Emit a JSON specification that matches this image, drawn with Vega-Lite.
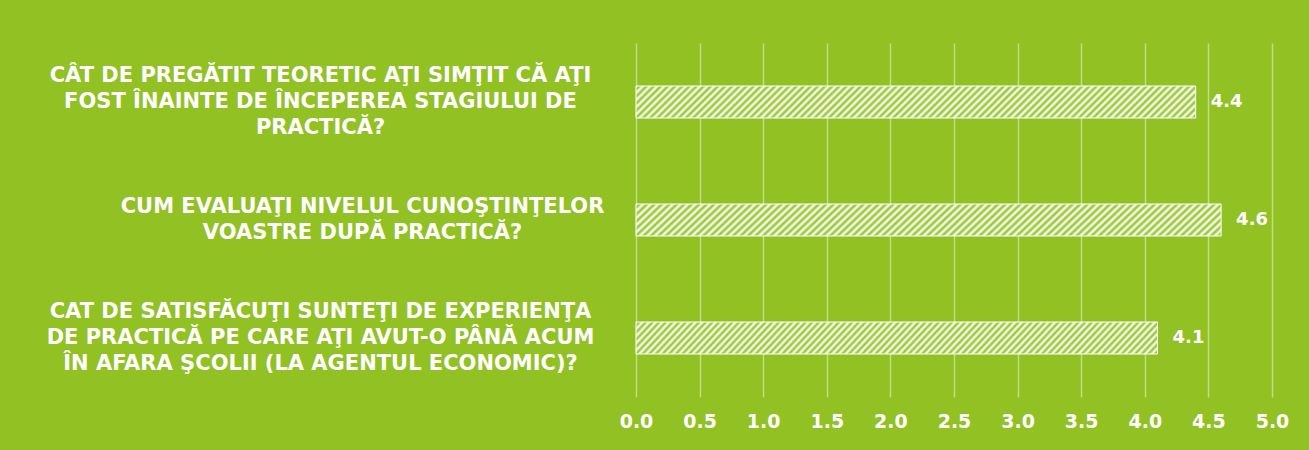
{
  "$schema": "https://vega.github.io/schema/vega-lite/v6.json",
  "autosize": "none",
  "width": 636,
  "height": 354,
  "padding": {"left": 636, "top": 43, "right": 37, "bottom": 53},
  "background": "#92c123",
  "config": {
    "view": {"stroke": null},
    "axis": {"domain": false, "ticks": false, "title": null}
  },
  "data": {
    "values": [
      {"q": "CÂT DE PREGĂTIT TEORETIC AŢI SIMŢIT CĂ AŢI|FOST ÎNAINTE DE ÎNCEPEREA STAGIULUI DE|PRACTICĂ?", "v": 4.4},
      {"q": "CUM EVALUAŢI NIVELUL CUNOŞTINŢELOR|VOASTRE DUPĂ PRACTICĂ?", "v": 4.6},
      {"q": "CAT DE SATISFĂCUŢI SUNTEŢI DE EXPERIENŢA|DE PRACTICĂ PE CARE AŢI AVUT-O PÂNĂ ACUM|ÎN AFARA ŞCOLII (LA AGENTUL ECONOMIC)?", "v": 4.1}
    ]
  },
  "encoding": {
    "y": {
      "field": "q", "type": "nominal", "sort": null,
      "scale": {"paddingInner": 0.729, "paddingOuter": 0.3645},
      "axis": {
        "labelExpr": "split(datum.value, '|')",
        "labelAlign": "center",
        "labelBaseline": "middle",
        "labelPadding": {"condition": {"test": "indexof(datum.value, 'CUM') == 0", "value": 274}, "value": 316},
        "labelOffset": {"condition": {"test": "indexof(datum.value, 'CUM') == 0", "value": -13}, "value": -26},
        "labelLimit": 0,
        "labelLineHeight": 26,
        "labelFont": "DejaVu Sans",
        "labelFontWeight": "bold",
        "labelFontSize": 21,
        "labelColor": "white"
      }
    },
    "x": {
      "field": "v", "type": "quantitative",
      "scale": {"domain": [0, 5], "nice": false},
      "axis": {
        "values": [0, 0.5, 1, 1.5, 2, 2.5, 3, 3.5, 4, 4.5, 5],
        "format": ".1f",
        "grid": true,
        "gridColor": "white",
        "gridOpacity": 0.45,
        "gridWidth": 1.5,
        "labelFlush": false,
        "labelPadding": 15,
        "labelFont": "DejaVu Sans",
        "labelFontWeight": "bold",
        "labelFontSize": 19,
        "labelColor": "white"
      }
    }
  },
  "layer": [
    {
      "mark": {
        "type": "bar",
        "stroke": "white",
        "strokeWidth": 1,
        "fill": {
          "gradient": "linear",
          "x1": 0, "y1": 0, "x2": 1.06, "y2": 0.061,
          "stops": [
            {"offset": 0, "color": "#fff"}, {"offset": 0.006, "color": "#92c123"}, {"offset": 0.012, "color": "#fff"}, {"offset": 0.018, "color": "#92c123"}, {"offset": 0.024, "color": "#fff"}, {"offset": 0.03, "color": "#92c123"}, {"offset": 0.036, "color": "#fff"}, {"offset": 0.042, "color": "#92c123"}, {"offset": 0.048, "color": "#fff"}, {"offset": 0.054, "color": "#92c123"},
            {"offset": 0.06, "color": "#fff"}, {"offset": 0.066, "color": "#92c123"}, {"offset": 0.072, "color": "#fff"}, {"offset": 0.078, "color": "#92c123"}, {"offset": 0.084, "color": "#fff"}, {"offset": 0.09, "color": "#92c123"}, {"offset": 0.096, "color": "#fff"}, {"offset": 0.102, "color": "#92c123"}, {"offset": 0.108, "color": "#fff"}, {"offset": 0.114, "color": "#92c123"},
            {"offset": 0.12, "color": "#fff"}, {"offset": 0.126, "color": "#92c123"}, {"offset": 0.132, "color": "#fff"}, {"offset": 0.138, "color": "#92c123"}, {"offset": 0.144, "color": "#fff"}, {"offset": 0.15, "color": "#92c123"}, {"offset": 0.156, "color": "#fff"}, {"offset": 0.162, "color": "#92c123"}, {"offset": 0.168, "color": "#fff"}, {"offset": 0.174, "color": "#92c123"},
            {"offset": 0.18, "color": "#fff"}, {"offset": 0.186, "color": "#92c123"}, {"offset": 0.192, "color": "#fff"}, {"offset": 0.198, "color": "#92c123"}, {"offset": 0.204, "color": "#fff"}, {"offset": 0.21, "color": "#92c123"}, {"offset": 0.216, "color": "#fff"}, {"offset": 0.222, "color": "#92c123"}, {"offset": 0.228, "color": "#fff"}, {"offset": 0.234, "color": "#92c123"},
            {"offset": 0.24, "color": "#fff"}, {"offset": 0.246, "color": "#92c123"}, {"offset": 0.252, "color": "#fff"}, {"offset": 0.258, "color": "#92c123"}, {"offset": 0.264, "color": "#fff"}, {"offset": 0.27, "color": "#92c123"}, {"offset": 0.276, "color": "#fff"}, {"offset": 0.282, "color": "#92c123"}, {"offset": 0.288, "color": "#fff"}, {"offset": 0.294, "color": "#92c123"},
            {"offset": 0.3, "color": "#fff"}, {"offset": 0.306, "color": "#92c123"}, {"offset": 0.312, "color": "#fff"}, {"offset": 0.318, "color": "#92c123"}, {"offset": 0.324, "color": "#fff"}, {"offset": 0.33, "color": "#92c123"}, {"offset": 0.336, "color": "#fff"}, {"offset": 0.342, "color": "#92c123"}, {"offset": 0.348, "color": "#fff"}, {"offset": 0.354, "color": "#92c123"},
            {"offset": 0.36, "color": "#fff"}, {"offset": 0.366, "color": "#92c123"}, {"offset": 0.372, "color": "#fff"}, {"offset": 0.378, "color": "#92c123"}, {"offset": 0.384, "color": "#fff"}, {"offset": 0.39, "color": "#92c123"}, {"offset": 0.396, "color": "#fff"}, {"offset": 0.402, "color": "#92c123"}, {"offset": 0.408, "color": "#fff"}, {"offset": 0.414, "color": "#92c123"},
            {"offset": 0.42, "color": "#fff"}, {"offset": 0.426, "color": "#92c123"}, {"offset": 0.432, "color": "#fff"}, {"offset": 0.438, "color": "#92c123"}, {"offset": 0.444, "color": "#fff"}, {"offset": 0.45, "color": "#92c123"}, {"offset": 0.456, "color": "#fff"}, {"offset": 0.462, "color": "#92c123"}, {"offset": 0.468, "color": "#fff"}, {"offset": 0.474, "color": "#92c123"},
            {"offset": 0.48, "color": "#fff"}, {"offset": 0.486, "color": "#92c123"}, {"offset": 0.492, "color": "#fff"}, {"offset": 0.498, "color": "#92c123"}, {"offset": 0.504, "color": "#fff"}, {"offset": 0.51, "color": "#92c123"}, {"offset": 0.516, "color": "#fff"}, {"offset": 0.522, "color": "#92c123"}, {"offset": 0.528, "color": "#fff"}, {"offset": 0.534, "color": "#92c123"},
            {"offset": 0.54, "color": "#fff"}, {"offset": 0.546, "color": "#92c123"}, {"offset": 0.552, "color": "#fff"}, {"offset": 0.558, "color": "#92c123"}, {"offset": 0.564, "color": "#fff"}, {"offset": 0.57, "color": "#92c123"}, {"offset": 0.576, "color": "#fff"}, {"offset": 0.582, "color": "#92c123"}, {"offset": 0.588, "color": "#fff"}, {"offset": 0.594, "color": "#92c123"},
            {"offset": 0.6, "color": "#fff"}, {"offset": 0.606, "color": "#92c123"}, {"offset": 0.612, "color": "#fff"}, {"offset": 0.618, "color": "#92c123"}, {"offset": 0.624, "color": "#fff"}, {"offset": 0.63, "color": "#92c123"}, {"offset": 0.636, "color": "#fff"}, {"offset": 0.642, "color": "#92c123"}, {"offset": 0.648, "color": "#fff"}, {"offset": 0.654, "color": "#92c123"},
            {"offset": 0.66, "color": "#fff"}, {"offset": 0.666, "color": "#92c123"}, {"offset": 0.672, "color": "#fff"}, {"offset": 0.678, "color": "#92c123"}, {"offset": 0.684, "color": "#fff"}, {"offset": 0.69, "color": "#92c123"}, {"offset": 0.696, "color": "#fff"}, {"offset": 0.702, "color": "#92c123"}, {"offset": 0.708, "color": "#fff"}, {"offset": 0.714, "color": "#92c123"},
            {"offset": 0.72, "color": "#fff"}, {"offset": 0.726, "color": "#92c123"}, {"offset": 0.732, "color": "#fff"}, {"offset": 0.738, "color": "#92c123"}, {"offset": 0.744, "color": "#fff"}, {"offset": 0.75, "color": "#92c123"}, {"offset": 0.756, "color": "#fff"}, {"offset": 0.762, "color": "#92c123"}, {"offset": 0.768, "color": "#fff"}, {"offset": 0.774, "color": "#92c123"},
            {"offset": 0.78, "color": "#fff"}, {"offset": 0.786, "color": "#92c123"}, {"offset": 0.792, "color": "#fff"}, {"offset": 0.798, "color": "#92c123"}, {"offset": 0.804, "color": "#fff"}, {"offset": 0.81, "color": "#92c123"}, {"offset": 0.816, "color": "#fff"}, {"offset": 0.822, "color": "#92c123"}, {"offset": 0.828, "color": "#fff"}, {"offset": 0.834, "color": "#92c123"},
            {"offset": 0.84, "color": "#fff"}, {"offset": 0.846, "color": "#92c123"}, {"offset": 0.852, "color": "#fff"}, {"offset": 0.858, "color": "#92c123"}, {"offset": 0.864, "color": "#fff"}, {"offset": 0.87, "color": "#92c123"}, {"offset": 0.876, "color": "#fff"}, {"offset": 0.882, "color": "#92c123"}, {"offset": 0.888, "color": "#fff"}, {"offset": 0.894, "color": "#92c123"},
            {"offset": 0.9, "color": "#fff"}, {"offset": 0.906, "color": "#92c123"}, {"offset": 0.912, "color": "#fff"}, {"offset": 0.918, "color": "#92c123"}, {"offset": 0.924, "color": "#fff"}, {"offset": 0.93, "color": "#92c123"}, {"offset": 0.936, "color": "#fff"}, {"offset": 0.942, "color": "#92c123"}, {"offset": 0.948, "color": "#fff"}, {"offset": 0.954, "color": "#92c123"},
            {"offset": 0.96, "color": "#fff"}, {"offset": 0.966, "color": "#92c123"}, {"offset": 0.972, "color": "#fff"}, {"offset": 0.978, "color": "#92c123"}, {"offset": 0.984, "color": "#fff"}, {"offset": 0.99, "color": "#92c123"}, {"offset": 0.996, "color": "#fff"}
          ]
        }
      }
    },
    {
      "mark": {
        "type": "text",
        "align": "left",
        "baseline": "middle",
        "dx": 15,
        "font": "DejaVu Sans",
        "fontWeight": "bold",
        "fontSize": 18,
        "color": "white"
      },
      "encoding": {
        "text": {"field": "v", "type": "quantitative", "format": ".1f"}
      }
    }
  ]
}
